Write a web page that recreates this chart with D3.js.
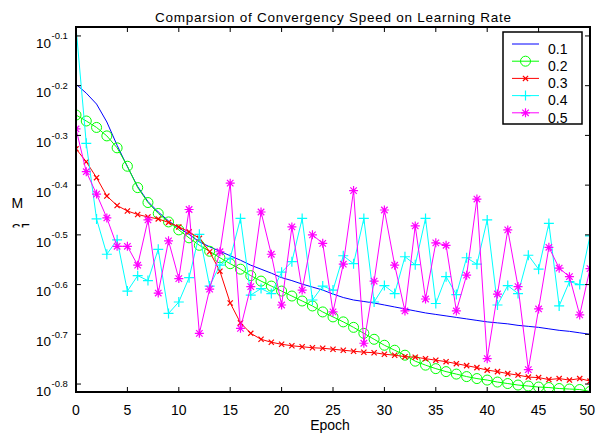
<!DOCTYPE html>
<html><head><meta charset="utf-8">
<script src="https://cdn.jsdelivr.net/npm/d3@7"></script>
<style>body{margin:0;background:#fff}svg{display:block}text{font-family:"Liberation Sans",Arial,sans-serif}</style>
</head><body><svg id="c" width="596" height="436"></svg>
<script>
// epochs 0..50 (x values)
const epochs = d3.range(0, 51);
const seriesNames = ["0.1", "0.2", "0.3", "0.4", "0.5"];
// values read as log10 exponents of the plotted MSE
const lr01 = [-0.197,-0.215,-0.237,-0.273,-0.320,-0.363,-0.403,-0.433,-0.454,-0.472,-0.486,-0.499,-0.514,-0.524,-0.533,-0.542,-0.551,-0.561,-0.569,-0.577,-0.586,-0.592,-0.599,-0.605,-0.611,-0.619,-0.626,-0.631,-0.634,-0.637,-0.641,-0.645,-0.649,-0.653,-0.657,-0.660,-0.663,-0.666,-0.669,-0.672,-0.675,-0.677,-0.679,-0.682,-0.684,-0.686,-0.689,-0.692,-0.694,-0.697,-0.700];
const lr02 = [-0.259,-0.271,-0.284,-0.301,-0.325,-0.362,-0.405,-0.435,-0.457,-0.474,-0.490,-0.506,-0.521,-0.533,-0.546,-0.558,-0.569,-0.582,-0.593,-0.603,-0.613,-0.623,-0.633,-0.643,-0.655,-0.665,-0.675,-0.686,-0.698,-0.710,-0.722,-0.732,-0.742,-0.754,-0.762,-0.769,-0.775,-0.780,-0.785,-0.789,-0.792,-0.796,-0.799,-0.802,-0.804,-0.806,-0.807,-0.809,-0.810,-0.811,-0.815];
const lr03 = [-0.327,-0.353,-0.385,-0.422,-0.441,-0.452,-0.459,-0.464,-0.468,-0.475,-0.484,-0.494,-0.507,-0.534,-0.573,-0.637,-0.677,-0.698,-0.710,-0.716,-0.720,-0.723,-0.725,-0.727,-0.728,-0.730,-0.732,-0.734,-0.736,-0.737,-0.740,-0.742,-0.745,-0.746,-0.749,-0.752,-0.755,-0.759,-0.763,-0.767,-0.772,-0.775,-0.779,-0.782,-0.786,-0.787,-0.791,-0.789,-0.792,-0.789,-0.794];
const lr04 = [-0.082,-0.316,-0.468,-0.539,-0.510,-0.613,-0.582,-0.592,-0.529,-0.658,-0.635,-0.586,-0.499,-0.603,-0.561,-0.547,-0.467,-0.621,-0.608,-0.618,-0.575,-0.554,-0.467,-0.631,-0.603,-0.611,-0.542,-0.558,-0.467,-0.635,-0.602,-0.618,-0.544,-0.560,-0.467,-0.638,-0.584,-0.620,-0.546,-0.559,-0.470,-0.641,-0.602,-0.618,-0.541,-0.569,-0.477,-0.643,-0.594,-0.600,-0.502];
const lr05 = [-0.287,-0.373,-0.418,-0.466,-0.523,-0.523,-0.561,-0.470,-0.617,-0.512,-0.588,-0.449,-0.698,-0.609,-0.534,-0.396,-0.688,-0.604,-0.454,-0.539,-0.641,-0.484,-0.611,-0.500,-0.517,-0.655,-0.559,-0.411,-0.718,-0.593,-0.450,-0.561,-0.653,-0.482,-0.629,-0.516,-0.521,-0.653,-0.581,-0.428,-0.749,-0.619,-0.490,-0.604,-0.771,-0.649,-0.525,-0.567,-0.584,-0.661,-0.568];
const xTicks = [0,5,10,15,20,25,30,35,40,45,50];
const yTickExps = ["-0.1","-0.2","-0.3","-0.4","-0.5","-0.6","-0.7","-0.8"];
const yDomainExp = [-0.816, -0.082];

const colors = ["#0000ff","#00ff00","#ff0000","#00ffff","#ff00ff"];
const markers = ["none","circle","x","plus","star"];
const allSeries = [lr01, lr02, lr03, lr04, lr05];

const svg = d3.select("#c");
const L = 76, R = 590, T = 27, B = 392;
const x = d3.scaleLinear().domain([0, 50]).range([L, R]);
const y = d3.scaleLog().domain(yDomainExp.map(e => Math.pow(10, e))).range([B, T]);

// title
svg.append("text").attr("x", (L + R) / 2).attr("y", 21.5).attr("text-anchor", "middle")
  .attr("font-size", 13.5).attr("textLength", 356).attr("lengthAdjust", "spacing")
  .text("Comparsion of Convergency Speed on Learning Rate");

// clip for plot
svg.append("clipPath").attr("id", "pc").append("rect").attr("x", L).attr("y", T).attr("width", R - L).attr("height", B - T);

function markerPath(type, s) {
  if (type === "x") return `M${-s},${-s}L${s},${s}M${-s},${s}L${s},${-s}`;
  if (type === "plus") return `M${-s},0L${s},0M0,${-s}L0,${s}`;
  if (type === "star") { const d = s * 0.72; return `M${-s},0L${s},0M0,${-s}L0,${s}M${-d},${-d}L${d},${d}M${-d},${d}L${d},${-d}`; }
  return "";
}
const mSize = {x: 2.6, plus: 5, star: 4.5};

const plot = svg.append("g").attr("clip-path", "url(#pc)");
const line = d3.line().x((d, i) => x(epochs[i])).y(d => y(Math.pow(10, d)));
allSeries.forEach((s, k) => {
  const g = plot.append("g");
  g.append("path").attr("d", line(s)).attr("fill", "none").attr("stroke", colors[k]).attr("stroke-width", 1);
  const m = markers[k];
  if (m === "circle") {
    g.selectAll("circle").data(s).join("circle").attr("cx", (d, i) => x(epochs[i])).attr("cy", d => y(Math.pow(10, d)))
      .attr("r", 5).attr("fill", "none").attr("stroke", colors[k]).attr("stroke-width", 1);
  } else if (m !== "none") {
    g.selectAll("path.m").data(s).join("path").attr("class", "m")
      .attr("transform", (d, i) => `translate(${x(epochs[i])},${y(Math.pow(10, d))})`)
      .attr("d", markerPath(m, mSize[m])).attr("fill", "none").attr("stroke", colors[k]).attr("stroke-width", 1.2);
  }
});

// ticks
const ax = svg.append("g");
xTicks.forEach((t, i) => {
  ax.append("line").attr("x1", x(t)).attr("x2", x(t)).attr("y1", B).attr("y2", B - 5).attr("stroke", "#000");
  ax.append("line").attr("x1", x(t)).attr("x2", x(t)).attr("y1", T).attr("y2", T + 5).attr("stroke", "#000");
  const last = i === xTicks.length - 1;
  ax.append("text").attr("x", last ? 595 : x(t)).attr("y", 414.5)
    .attr("text-anchor", last ? "end" : "middle").attr("font-size", 14).text(t);
});
yTickExps.forEach(e => {
  const yy = y(Math.pow(10, +e));
  ax.append("line").attr("x1", L).attr("x2", L + 5).attr("y1", yy).attr("y2", yy).attr("stroke", "#000");
  ax.append("line").attr("x1", R).attr("x2", R - 5).attr("y1", yy).attr("y2", yy).attr("stroke", "#000");
  const t = ax.append("text").attr("x", 36).attr("y", yy + 11.8).attr("font-size", 13.5);
  t.append("tspan").text("10");
  t.append("tspan").attr("font-size", 9.5).attr("dy", -8.5).attr("dx", 0.5).text(e);
});
ax.append("rect").attr("x", L).attr("y", T).attr("width", R - L).attr("height", B - T)
  .attr("fill", "none").attr("stroke", "#000").attr("stroke-width", 2);

// axis labels
svg.append("text").attr("x", 330).attr("y", 430).attr("text-anchor", "middle").attr("font-size", 14).text("Epoch");
svg.append("text").attr("x", 11.5).attr("y", 207.5).attr("font-size", 14).text("M");
svg.append("clipPath").attr("id", "yc").append("rect").attr("x", 0).attr("y", 220).attr("width", 40).attr("height", 7.6);
svg.append("text").attr("x", 11.5).attr("y", 233.6).attr("font-size", 14).attr("clip-path", "url(#yc)").text("SE");

// legend
const lg = {x: 503, y: 32, w: 79, h: 92};
svg.append("clipPath").attr("id", "lc").append("rect").attr("x", lg.x).attr("y", lg.y).attr("width", lg.w).attr("height", lg.h);
const leg = svg.append("g");
leg.append("rect").attr("x", lg.x).attr("y", lg.y).attr("width", lg.w).attr("height", lg.h).attr("fill", "#fff");
const legIn = leg.append("g").attr("clip-path", "url(#lc)");
seriesNames.forEach((n, k) => {
  const yy = 44 + k * 17.2;
  legIn.append("line").attr("x1", 512).attr("x2", 539).attr("y1", yy).attr("y2", yy).attr("stroke", colors[k]).attr("stroke-width", 1);
  const m = markers[k];
  if (m === "circle") legIn.append("circle").attr("cx", 525.5).attr("cy", yy).attr("r", 5).attr("fill", "none").attr("stroke", colors[k]);
  else if (m !== "none") legIn.append("path").attr("transform", `translate(525.5,${yy})`).attr("d", markerPath(m, mSize[m]))
    .attr("fill", "none").attr("stroke", colors[k]).attr("stroke-width", 1.2);
  legIn.append("text").attr("x", 548).attr("y", yy + 9.8).attr("font-size", 14).text(n);
});
leg.append("rect").attr("x", lg.x).attr("y", lg.y).attr("width", lg.w).attr("height", lg.h)
  .attr("fill", "none").attr("stroke", "#000").attr("stroke-width", 1.5);
</script></body></html>
